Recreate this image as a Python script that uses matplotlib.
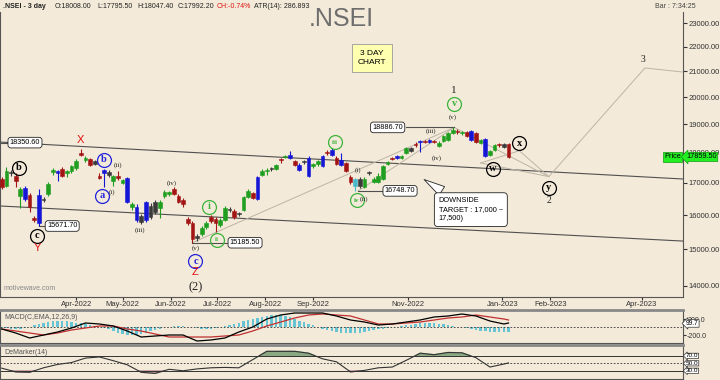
import matplotlib
matplotlib.use('Agg')
import matplotlib.pyplot as plt
import matplotlib.dates as mdates
from matplotlib.patches import Rectangle
import pandas as pd

plt.rcParams['font.family'] = ['Liberation Sans', 'DejaVu Sans']

BG = '#f3ead9'
GREEN = '#1f9e1f'
RED = '#a31515'
BLUE = '#1515d6'
WAVE_GREEN = '#3cb43c'

# ---------------------------------------------------------------------------
# data: 3 day bars of .NSEI
# ---------------------------------------------------------------------------
dates = pd.date_range('2022-02-12', periods=110, freq='3D')

opens = [17137, 16903, 17344, 17241, 16580, 16483, 16612, 15909, 15758, 16483,
         16645, 17344, 17379, 17448, 17310, 17379, 17482, 18000, 17758, 17793,
         17724, 17241, 17413, 17344, 17068, 17241, 17000, 17172, 16257, 16257,
         15788, 15848, 16290, 16096, 16225, 16580, 16645, 16806, 16580, 16451,
         15879, 15758, 15364, 15424, 15636, 15939, 15879, 15697, 15848, 16193,
         16129, 16064, 16161, 16548, 16677, 16483, 17275, 17379, 17482, 17448,
         17793, 17862, 17931, 17724, 17586, 17724, 17241, 17551, 17620, 17551,
         18034, 18103, 17827, 17758, 17655, 17206, 16903, 17137, 16871, 17344,
         17034, 17034, 17137, 17620, 17827, 17896, 17827, 18000, 18069, 18310,
         18414, 18414, 18379, 18414, 18241, 18414, 18448, 18690, 18759, 18690,
         18724, 18759, 18690, 18345, 18483, 17931, 18103, 18310, 18207, 18310]

highs = [17206, 17517, 17413, 17310, 16871, 16903, 16677, 15970, 16806, 16548,
         17034, 17482, 17413, 17517, 17413, 17586, 17793, 18114, 17896, 17827,
         17758, 17310, 17448, 17413, 17275, 17379, 17137, 17206, 16386, 16322,
         16032, 16418, 16354, 16451, 16451, 16774, 16742, 16871, 16645, 16515,
         15939, 15818, 15424, 15667, 15818, 16000, 15939, 15909, 16290, 16257,
         16193, 16096, 16580, 16806, 16709, 17241, 17448, 17482, 17517, 17620,
         17827, 17931, 18069, 17758, 17655, 17758, 17896, 17655, 17758, 17931,
         18103, 18172, 17896, 18000, 17690, 17275, 17172, 17206, 17206, 17379,
         17206, 17310, 17586, 17724, 17862, 17931, 17931, 18207, 18207, 18379,
         18448, 18448, 18483, 18448, 18414, 18621, 18724, 18887, 18828, 18759,
         18759, 18793, 18724, 18483, 18517, 18103, 18310, 18345, 18345, 18345]

lows = [16806, 16871, 17241, 16871, 16225, 16418, 16096, 15788, 15671, 16386,
        16580, 17275, 17068, 17206, 17206, 17310, 17413, 17896, 17690, 17551,
        17586, 17137, 16871, 17206, 16903, 17103, 16968, 16354, 16161, 15788,
        15727, 15788, 15879, 16032, 15909, 16515, 16580, 16612, 16354, 16257,
        15697, 15183, 15242, 15364, 15576, 15758, 15485, 15636, 15818, 16096,
        15879, 15970, 16129, 16515, 16483, 16451, 17241, 17275, 17379, 17413,
        17655, 17827, 17793, 17551, 17379, 17620, 17206, 17482, 17551, 17517,
        17931, 17896, 17586, 17551, 17344, 16968, 16748, 16838, 16838, 17275,
        17000, 17000, 17103, 17586, 17758, 17793, 17793, 17965, 18034, 18207,
        18034, 18345, 18345, 18345, 18207, 18379, 18414, 18655, 18655, 18621,
        18552, 18414, 18345, 18310, 17862, 17896, 18069, 18207, 18172, 17827]

closes = [16871, 17379, 17310, 17068, 16806, 16838, 16257, 15848, 16612, 16451,
          16968, 17413, 17310, 17241, 17379, 17551, 17724, 17931, 17827, 17586,
          17620, 17172, 17310, 17275, 17241, 17172, 17103, 16386, 16322, 15848,
          15970, 16386, 15939, 16386, 16386, 16709, 16709, 16645, 16386, 16322,
          15758, 15303, 15333, 15606, 15758, 15818, 15758, 15848, 16225, 16161,
          15939, 16032, 16548, 16742, 16515, 17206, 17379, 17413, 17448, 17586,
          17758, 17896, 17827, 17586, 17413, 17690, 17827, 17620, 17724, 17896,
          18000, 17931, 17620, 17586, 17379, 17034, 17137, 16903, 17137, 17310,
          17137, 17241, 17551, 17690, 17793, 17827, 17896, 18172, 18172, 18276,
          18379, 18379, 18448, 18379, 18345, 18586, 18690, 18793, 18724, 18724,
          18586, 18448, 18379, 18448, 17896, 18069, 18276, 18276, 18310, 17860]

# u = up, d = down, b = blue (wide range), n = neutral / doji, c = cyan
kinds = list('dundubddbn' + 'uubduuudud' + 'ndbnudubub' + 'nbnnuuuddd' +
             'ddnuudduun' + 'dnuudbuunu' + 'dubdbnbuub' + 'dbdbddcnun' +
             'uuuudbuund' + 'bdbduuuudu' + 'dbdubuudnd')

# MACD(12,26,9) and DeMarker(14), read every third bar
macd_dates = list(dates[::3]) + [dates[-1]]
macd_line = [-50, -150, -275, -200, -125, -25, 100, 75, 25, -100, -250, -225, -200,
             -200, -350, -325, -275, -125, 0, 200, 300, 350, 350, 350, 275, 175,
             125, 50, 75, 125, 175, 250, 275, 325, 275, 150, 75, 100]
signal_line = [-50, -100, -150, -200, -150, -75, -25, 25, 25, -50, -100, -175, -250,
               -250, -250, -250, -225, -200, -100, 25, 125, 225, 300, 325, 300, 275,
               175, 75, 75, 100, 125, 175, 225, 250, 300, 250, 200, 175]
macd_hist = [-20, -30, -40, -50, -40, -20,
             10, 40, 70, 100, 120, 140, 150, 150, 140, 130, 110, 90, 70, 50, 30, 10,
             -20, -60, -100, -140, -170, -190, -200, -190, -170, -140, -100, -70,
             -40, -10, 10, 25, 30, 25, 10, -10,
             -30, -50, -60, -50, -30, -10,
             20, 50, 80, 110, 140, 170, 200, 230, 260, 280, 300, 300, 290, 270, 240,
             200, 160, 120, 80, 40,
             -10, -40, -70, -100, -120, -140, -150, -150, -150, -140, -120, -100,
             -80, -60, -40, -20, -10, 0,
             20, 40, 60, 80, 95, 100, 100, 95, 85, 70, 50, 30, 10,
             -10, -30, -50, -70, -90, -110, -120, -125, -125, -120, -115]

demarker = [37, 27, 26, 38, 47, 52, 64, 67, 57, 46, 26, 23, 34, 30, 35, 38, 39, 38,
            60, 82, 82, 82, 77, 62, 54, 27, 31, 38, 40, 58, 77, 73, 79, 78, 65, 40,
            48, 51]

month_ticks = ['2022-04-01', '2022-05-01', '2022-06-01', '2022-07-01', '2022-08-01',
               '2022-09-01', '2022-11-01', '2023-01-01', '2023-02-01', '2023-04-01']
month_labels = ['Apr-2022', 'May-2022', 'Jun-2022', 'Jul-2022', 'Aug-2022',
                'Sep-2022', 'Nov-2022', 'Jan-2023', 'Feb-2023', 'Apr-2023']
price_ticks = [14000, 15000, 16000, 17000, 18000, 19000, 20000, 21000, 22000, 23000]

# ---------------------------------------------------------------------------
# figure
# ---------------------------------------------------------------------------
fig = plt.figure(figsize=(7.2, 3.8), dpi=100, facecolor=BG)
W, H = 720.0, 380.0


def rect(top, bottom):
    return [0, 1 - bottom / H, 683 / W, (bottom - top) / H]


def T(s):
    return pd.Timestamp(s)


ax = fig.add_axes(rect(12, 297), facecolor=BG)
ax_m = fig.add_axes(rect(310, 343), facecolor=BG, sharex=ax)
ax_d = fig.add_axes(rect(345, 379), facecolor=BG, sharex=ax)

x0 = mdates.date2num(T('2022-02-10 21:00'))
x1 = mdates.date2num(T('2023-04-27 14:00'))
ax.set_xlim(x0, x1)
ax.set_yscale('log')
ax.set_ylim(13700, 23498)

# candles
kind_col = {'u': GREEN, 'd': RED, 'b': BLUE, 'n': '#3a3a3a', 'c': '#48b8c8'}
body_w = 2.4
for d, o, h, l, c, k in zip(dates, opens, highs, lows, closes, kinds):
    col = kind_col[k]
    xd = mdates.date2num(d)
    ax.vlines(xd, l, h, color=col, lw=0.8, zorder=3)
    lo, hi = min(o, c), max(o, c)
    if hi - lo < 15:
        ax.hlines((lo + hi) / 2, xd - body_w / 2, xd + body_w / 2, color=col, lw=1.2, zorder=4)
    else:
        ax.add_patch(Rectangle((xd - body_w / 2, lo), body_w, hi - lo, fc=col, ec=col,
                               lw=0.4, zorder=4))

# channel lines
ax.plot([x0, x1], [18370, 17129], color='#505050', lw=0.8, zorder=2)
ax.plot([x0, x1], [16276, 15230], color='#505050', lw=0.8, zorder=2)

# thin wave lines and projection
thin = '#bdb5a5'
thin_lines = [
    (['2022-06-15', '2022-12-01'], [15183, 18887]),
    (['2022-09-30', '2022-12-01'], [16748, 18887]),
    (['2022-12-01', '2023-01-31'], [18887, 17206]),
    (['2022-12-18', '2023-01-12', '2023-01-31'], [17656, 18070, 17206]),
    (['2022-12-18', '2023-01-31', '2023-04-03', '2023-04-27'], [17656, 17206, 21136, 20977]),
]
for ds, ps in thin_lines:
    ax.plot(pd.to_datetime(ds), ps, color=thin, lw=0.7, zorder=2)

# value boxes with leader lines
box_kw = dict(boxstyle='round,pad=0.25,rounding_size=0.4', fc='white', ec='#222222', lw=0.6)
leaders = [('18350.60', 18350, '2022-02-10', '2022-02-16', '2022-02-27'),
           ('15671.70', 15671, '2022-03-08', '2022-03-13', '2022-03-23'),
           ('15185.50', 15183, '2022-06-15', '2022-07-08', '2022-07-19'),
           ('16748.70', 16748, '2022-09-30', '2022-10-18', '2022-10-27'),
           ('18886.70', 18887, '2022-10-31', '2022-12-01', '2022-10-19')]
for t, p, da, db, dc in leaders:
    ax.plot([T(da), T(db)], [p, p], color='#505050', lw=0.8, zorder=2)
    ax.text(T(dc), p, t, fontsize=5.2, ha='center', va='center', bbox=box_kw, zorder=6)

# circled wave labels
circled = [('b', '2022-02-23', 17490, 'black'), ('c', '2022-03-07', 15378, 'black'),
           ('b', '2022-04-19', 17757, '#2222dd'), ('a', '2022-04-18', 16587, '#2222dd'),
           ('c', '2022-06-17', 14666, '#2222dd'), ('i', '2022-06-26', 16245, WAVE_GREEN),
           ('ii', '2022-07-01', 15261, WAVE_GREEN), ('iii', '2022-09-15', 18370, WAVE_GREEN),
           ('iv', '2022-09-29', 16461, WAVE_GREEN), ('v', '2022-12-01', 19744, WAVE_GREEN),
           ('w', '2022-12-26', 17457, 'black'), ('x', '2023-01-12', 18336, 'black'),
           ('y', '2023-01-31', 16840, 'black')]
for t, d, p, col in circled:
    ax.plot(T(d), p, 'o', ms=10, mfc='none', mec=col, mew=0.9, zorder=7)
    fs = 7.5 if len(t) == 1 else 5
    ax.text(T(d), p, t, color=col, fontsize=fs, ha='center', va='center',
            family='Liberation Serif', fontweight='bold', zorder=7)

small = [('(ii)', '2022-04-28', 17590), ('(i)', '2022-04-24', 16713),
         ('(iii)', '2022-05-12', 15552), ('(iv)', '2022-06-02', 17000),
         ('(v)', '2022-06-17', 15031), ('(i)', '2022-09-30', 17423),
         ('(ii)', '2022-10-04', 16492), ('(iii)', '2022-11-16', 18760),
         ('(iv)', '2022-11-20', 17825), ('(v)', '2022-11-30', 19263)]
for t, d, p in small:
    ax.text(T(d), p, t, fontsize=5, ha='center', va='center',
            family='Liberation Serif', color='#222222', zorder=7)

for t, d, p in [('X', '2022-04-04', 18442), ('Y', '2022-03-07', 15031), ('Z', '2022-06-17', 14363)]:
    ax.text(T(d), p, t, fontsize=8, color='#e01010', ha='center', va='center', zorder=7)

for t, d, p, fs in [('(2)', '2022-06-17', 13964, 9), ('1', '2022-12-01', 20238, 8),
                    ('2', '2023-01-31', 16461, 7), ('3', '2023-04-02', 21461, 7)]:
    ax.text(T(d), p, t, fontsize=fs, ha='center', va='center',
            family='Liberation Serif', color='#222222', zorder=7)

# notes
ax.text(372 / 683, (297 - 58) / 285, '3 DAY\nCHART', transform=ax.transAxes, fontsize=6,
        ha='center', va='center', linespacing=1.3,
        bbox=dict(boxstyle='square,pad=0.7', fc='#ffffb0', ec='#999999', lw=0.6))
ax.annotate('DOWNSIDE\nTARGET : 17,000 ~\n17,500)', xy=(T('2022-11-10'), 17161),
            xytext=(T('2022-11-21'), 16550), fontsize=5.3, ha='left', va='top',
            linespacing=1.4,
            bbox=dict(boxstyle='round,pad=0.6,rounding_size=0.5', fc='white', ec='#222222', lw=0.6),
            arrowprops=dict(arrowstyle='wedge,tail_width=1.4,shrink_factor=0.5', fc='white',
                            ec='#222222', lw=0.6), zorder=8)
ax.text(4 / 683, (297 - 288) / 285, 'motivewave.com', transform=ax.transAxes, fontsize=5,
        color='#888888', va='center')

# axes styling
ax.yaxis.tick_right()
ax.set_yticks(price_ticks)
ax.set_yticklabels([f'{p:.2f}' for p in price_ticks])
ax.yaxis.set_minor_locator(matplotlib.ticker.NullLocator())
ax.tick_params(axis='y', labelsize=5.5, length=3, pad=1, colors='#333333')
ax.set_xticks(mdates.date2num(pd.to_datetime(month_ticks)))
ax.set_xticklabels(month_labels)
ax.tick_params(axis='x', labelsize=5.5, length=2, pad=1, colors='#333333')
for a in (ax, ax_m, ax_d):
    for s in a.spines.values():
        s.set_color('#555555')
        s.set_linewidth(0.8)
    a.spines['top'].set_visible(False)
for a in (ax_m, ax_d):
    a.spines['top'].set_visible(True)
    a.spines['top'].set_color('#888888')
    a.spines['top'].set_linewidth(2)

# price marker
ax.text(1.0 - 2 / 683, 17859.5, 'Price', transform=ax.get_yaxis_transform(), fontsize=5.3,
        ha='right', va='center', bbox=dict(boxstyle='square,pad=0.2', fc='#22ee22', ec='#119911', lw=0.5))
ax.text(1.0 + 3 / 683, 17859.5, '17859.50', transform=ax.get_yaxis_transform(), fontsize=5.3,
        ha='left', va='center', bbox=dict(boxstyle='larrow,pad=0.15', fc='#22ee22', ec='#119911', lw=0.5),
        clip_on=False, zorder=9)

# MACD panel
ax_m.bar(dates, macd_hist, width=1.6, color='#66c4d4', zorder=2)
ax_m.plot(macd_dates, signal_line, color='#c03030', lw=0.9, zorder=3)
ax_m.plot(macd_dates, macd_line, color='black', lw=0.9, zorder=4)
ax_m.axhline(0, color='#333333', lw=0.6, ls=(0, (2, 2)))
ax_m.set_ylim(-400, 425)
ax_m.yaxis.tick_right()
ax_m.set_yticks([200, -200])
ax_m.set_yticklabels(['200.0', '-200.0'])
ax_m.tick_params(axis='y', labelsize=5, length=2, pad=1, colors='#333333')
ax_m.tick_params(axis='x', labelbottom=False, length=0)
ax_m.text(0.006, 0.88, 'MACD(C,EMA,12,26,9)', transform=ax_m.transAxes, fontsize=5, color='#555555', va='top')
ax_m.text(1.0 + 3 / 683, 90, '99.7', transform=ax_m.get_yaxis_transform(), fontsize=4.8, ha='left',
          va='center', bbox=dict(boxstyle='larrow,pad=0.05', fc='white', ec='#333333', lw=0.5),
          clip_on=False, zorder=9)

# DeMarker panel
ax_d.plot(macd_dates, demarker, color='#333333', lw=0.8, zorder=3)
ax_d.fill_between(macd_dates, 70, demarker, where=[v > 70 for v in demarker], interpolate=True,
                  color='#8aa882', zorder=2)
ax_d.fill_between(macd_dates, 30, demarker, where=[v < 30 for v in demarker], interpolate=True,
                  color='#c8a0a0', zorder=2)
ax_d.axhline(70, color='#333333', lw=0.7)
ax_d.axhline(30, color='#333333', lw=0.7)
ax_d.axhline(50, color='#333333', lw=0.6, ls=(0, (2, 2)))
ax_d.set_ylim(8, 99)
ax_d.yaxis.tick_right()
ax_d.set_yticks([])
ax_d.tick_params(axis='x', labelbottom=False, length=0)
ax_d.text(0.006, 0.88, 'DeMarker(14)', transform=ax_d.transAxes, fontsize=5, color='#555555', va='top')
for v in (70, 50, 30):
    ax_d.text(1.0 + 3 / 683, v, f'{v:.1f}', transform=ax_d.get_yaxis_transform(), fontsize=4.6,
              ha='left', va='center', bbox=dict(boxstyle='larrow,pad=0.02', fc='white', ec='#333333', lw=0.5),
              clip_on=False, zorder=5)

# header
hy = 1 - 6 / H
fig.text(3 / W, hy, '.NSEI - 3 day', fontsize=5, fontweight='bold', va='center', color='#222222')
for t, xp in [('O:18008.00', 55), ('L:17795.50', 97), ('H:18047.40', 137), ('C:17992.20', 178)]:
    fig.text(xp / W, hy, t, fontsize=5, va='center', color='#222222')
fig.text(217 / W, hy, 'CH:-0.74%', fontsize=5, va='center', color='#dd1111')
fig.text(254 / W, hy, 'ATR(14): 286.893', fontsize=5, va='center', color='#222222')
fig.text(341 / W, 1 - 19 / H, '.NSEI', fontsize=18, ha='center', va='center', color='#6e6e6e')
fig.text(655 / W, 1 - 7 / H, 'Bar : 7:34:25', fontsize=5, va='center', color='#444444')

fig.savefig('out.png', dpi=100, facecolor=BG)
